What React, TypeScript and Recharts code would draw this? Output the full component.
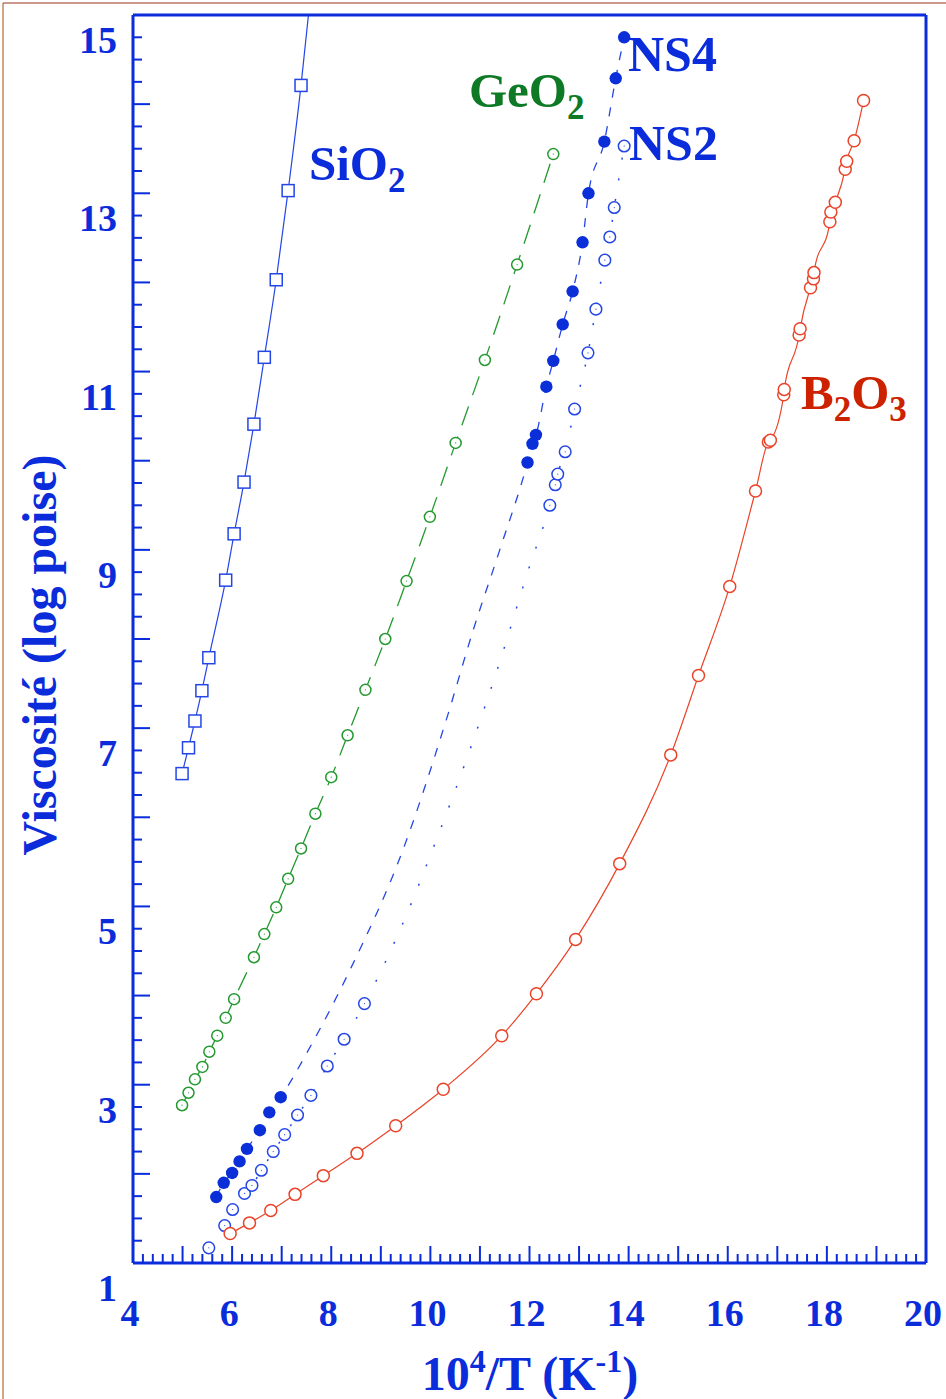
import React from 'react';
import { ComposedChart, Scatter, Line, XAxis, YAxis } from 'recharts';

const W = 946;
const H = 1399;
// plot frame in page pixels
const FRAME = { left: 133, top: 15, right: 926, bottom: 1263 };

const AXIS = '#0a2cdb';
const BLUE = '#2446e6';
const BLUE_DARK = '#0a2ed8';
const GREEN = '#23992f';
const GREEN_TEXT = '#0e7a26';
const RED = '#ea4328';
const RED_TEXT = '#cc2200';
const FONT = '"Liberation Serif", "Times New Roman", serif';

// x = 10^4/T (K^-1), y = log viscosity (poise)
const sio2X = [4.99, 5.12, 5.25, 5.39, 5.53, 5.87, 6.04, 6.24, 6.44, 6.65, 6.89, 7.13, 7.39];
const sio2Y = [6.49, 6.78, 7.08, 7.42, 7.79, 8.66, 9.18, 9.76, 10.41, 11.16, 12.03, 13.03, 14.21];
// fitted line keeps going past the last square up to the frame
const sio2TailX = [7.54];
const sio2TailY = [15.0];

const geo2X = [4.99, 5.12, 5.25, 5.4, 5.54, 5.7, 5.87, 6.04, 6.44, 6.65, 6.89, 7.13, 7.39, 7.68, 8.0, 8.33, 8.69, 9.09, 9.52, 9.99, 10.51, 11.1, 11.75, 12.48];
const geo2Y = [2.77, 2.91, 3.06, 3.2, 3.37, 3.55, 3.75, 3.96, 4.43, 4.69, 4.99, 5.31, 5.65, 6.04, 6.45, 6.92, 7.43, 8.0, 8.65, 9.37, 10.2, 11.13, 12.2, 13.44];

const ns4X = [5.68, 5.83, 6.0, 6.15, 6.3, 6.56, 6.75, 6.98, 11.96, 12.06, 12.13, 12.34, 12.48, 12.67, 12.87, 13.07, 13.19, 13.51, 13.74, 13.91];
const ns4Y = [1.74, 1.9, 2.01, 2.14, 2.28, 2.49, 2.69, 2.86, 9.98, 10.19, 10.29, 10.83, 11.12, 11.53, 11.9, 12.45, 13.0, 13.58, 14.29, 14.75];
// fit curve between the two groups of points
const ns4FitX = [7.51, 8.38, 9.45, 10.33, 10.87, 11.4];
const ns4FitY = [3.36, 4.29, 5.64, 7.11, 8.11, 9.0];

const ns2X = [5.53, 5.85, 6.01, 6.25, 6.4, 6.59, 6.83, 7.06, 7.32, 7.59, 7.92, 8.26, 8.67, 12.41, 12.52, 12.57, 12.72, 12.91, 13.18, 13.34, 13.52, 13.62, 13.71, 13.91];
const ns2Y = [1.17, 1.42, 1.6, 1.78, 1.87, 2.04, 2.25, 2.44, 2.66, 2.88, 3.21, 3.51, 3.91, 9.5, 9.73, 9.85, 10.1, 10.58, 11.21, 11.7, 12.25, 12.51, 12.84, 13.53];
const ns2FitX = [9.39, 10.13, 10.8, 11.41, 11.98];
const ns2FitY = [4.74, 5.76, 6.76, 7.76, 8.78];

const b2o3X = [5.96, 6.35, 6.78, 7.27, 7.84, 8.52, 9.3, 10.26, 11.44, 12.14, 12.93, 13.82, 14.85, 15.41, 16.04, 16.56, 16.82, 16.86, 17.13, 17.14, 17.44, 17.46, 17.67, 17.73, 17.74, 18.06, 18.08, 18.17, 18.37, 18.4, 18.55, 18.74];
const b2o3Y = [1.33, 1.45, 1.59, 1.77, 1.98, 2.23, 2.54, 2.95, 3.55, 4.02, 4.63, 5.48, 6.7, 7.59, 8.59, 9.66, 10.21, 10.23, 10.74, 10.8, 11.41, 11.48, 11.94, 12.04, 12.11, 12.68, 12.79, 12.9, 13.27, 13.36, 13.59, 14.04];

const xLabels = [4, 6, 8, 10, 12, 14, 16, 18, 20];
const yLabels = [1, 3, 5, 7, 9, 11, 13, 15];
const xTicks = Array.from({ length: 81 }, (_, i) => 4 + i / 5);
const yTicks = Array.from({ length: 57 }, (_, i) => 1 + i / 4);

const zip = (xs: number[], ys: number[]) => xs.map((x, i) => ({ x, y: ys[i] }));
const byX = (a: { x: number }, b: { x: number }) => a.x - b.x;

const sio2 = zip(sio2X, sio2Y);
const sio2Line = [...sio2, ...zip(sio2TailX, sio2TailY)];
const geo2 = zip(geo2X, geo2Y);
const ns4 = zip(ns4X, ns4Y);
const ns4Line = [...ns4, ...zip(ns4FitX, ns4FitY)].sort(byX);
const ns2 = zip(ns2X, ns2Y);
const ns2Line = [...ns2, ...zip(ns2FitX, ns2FitY)].sort(byX);
const b2o3 = zip(b2o3X, b2o3Y);

const isInt = (v: number) => Math.abs(v - Math.round(v)) < 1e-6;
const has = (arr: number[], v: number) => arr.some((a) => Math.abs(a - v) < 1e-6);

const tickText = { fontFamily: FONT, fontWeight: 700, fontSize: 38, fill: AXIS };

const BottomTick = (props: any) => {
  const { x, payload } = props;
  const v = payload.value;
  const len = isInt(v) ? 17 : 9;
  return (
    <g>
      <line x1={x} x2={x} y1={FRAME.bottom} y2={FRAME.bottom - len} stroke={AXIS} strokeWidth={2} />
      {has(xLabels, v) && (
        <text x={x - 3} y={1326} textAnchor="middle" {...tickText}>
          {Math.round(v)}
        </text>
      )}
    </g>
  );
};

const TopTick = (props: any) => {
  const { x, payload } = props;
  const len = isInt(payload.value) ? 17 : 9;
  return <line x1={x} x2={x} y1={FRAME.top} y2={FRAME.top + len} stroke={AXIS} strokeWidth={2} />;
};

const LeftTick = (props: any) => {
  const { y, payload } = props;
  const v = payload.value;
  const len = isInt(v) ? 17 : 9;
  return (
    <g>
      <line x1={FRAME.left} x2={FRAME.left + len} y1={y} y2={y} stroke={AXIS} strokeWidth={2} />
      {has(yLabels, v) && (
        <text x={117} y={y + 38} textAnchor="end" {...tickText}>
          {Math.round(v)}
        </text>
      )}
    </g>
  );
};

const RightTick = (props: any) => {
  const { y, payload } = props;
  const len = isInt(payload.value) ? 17 : 9;
  return <line x1={FRAME.right} x2={FRAME.right - len} y1={y} y2={y} stroke={AXIS} strokeWidth={2} />;
};

const Square = (props: any) => {
  const { cx, cy } = props;
  return <rect x={cx - 6} y={cy - 6} width={12} height={12} fill="#fff" stroke={BLUE} strokeWidth={1.5} />;
};

const openCircle = (color: string, r: number, dot: boolean) => (props: any) => {
  const { cx, cy } = props;
  return (
    <g>
      <circle cx={cx} cy={cy} r={r} fill="#fff" stroke={color} strokeWidth={1.5} />
      {dot && <circle cx={cx} cy={cy} r={0.6} fill={color} />}
    </g>
  );
};

const FilledCircle = (props: any) => {
  const { cx, cy } = props;
  return <circle cx={cx} cy={cy} r={6.2} fill={BLUE_DARK} />;
};

const labelStyle = { fontFamily: FONT, fontWeight: 700 };

export default function App() {
  return (
    <div style={{ position: 'absolute', left: 0, top: 0, width: W, height: H, background: '#fff' }}>
      <ComposedChart
        width={W}
        height={H}
        margin={{ top: FRAME.top - 1, left: FRAME.left - 1, right: W - FRAME.right - 1, bottom: H - FRAME.bottom - 1 }}
      >
        <XAxis
          xAxisId="b"
          dataKey="x"
          type="number"
          domain={[4, 20]}
          ticks={xTicks}
          interval={0}
          height={1}
          tickLine={false}
          axisLine={{ stroke: AXIS, strokeWidth: 3 }}
          tick={<BottomTick />}
        />
        <XAxis
          xAxisId="t"
          orientation="top"
          dataKey="x"
          type="number"
          domain={[4, 20]}
          ticks={xTicks}
          interval={0}
          height={1}
          tickLine={false}
          axisLine={{ stroke: AXIS, strokeWidth: 3 }}
          tick={<TopTick />}
        />
        <YAxis
          yAxisId="l"
          dataKey="y"
          type="number"
          domain={[1, 15]}
          ticks={yTicks}
          interval={0}
          width={1}
          tickLine={false}
          axisLine={{ stroke: AXIS, strokeWidth: 3 }}
          tick={<LeftTick />}
        />
        <YAxis
          yAxisId="r"
          orientation="right"
          dataKey="y"
          type="number"
          domain={[1, 15]}
          ticks={yTicks}
          interval={0}
          width={1}
          tickLine={false}
          axisLine={{ stroke: AXIS, strokeWidth: 3 }}
          tick={<RightTick />}
        />

        <Line xAxisId="b" yAxisId="l" data={sio2Line} dataKey="y" type="monotone" stroke={BLUE} strokeWidth={1.2} dot={false} isAnimationActive={false} />
        <Line xAxisId="b" yAxisId="l" data={geo2} dataKey="y" type="monotone" stroke={GREEN} strokeWidth={1.3} strokeDasharray="20 12" dot={false} isAnimationActive={false} />
        <Line xAxisId="b" yAxisId="l" data={ns4Line} dataKey="y" type="monotone" stroke={BLUE} strokeWidth={1.3} strokeDasharray="9 10" dot={false} isAnimationActive={false} />
        <Line xAxisId="b" yAxisId="l" data={ns2Line} dataKey="y" type="monotone" stroke={BLUE} strokeWidth={1.5} strokeDasharray="2 19" dot={false} isAnimationActive={false} />
        <Line xAxisId="b" yAxisId="l" data={b2o3} dataKey="y" type="monotone" stroke={RED} strokeWidth={1.2} dot={false} isAnimationActive={false} />

        <Scatter xAxisId="b" yAxisId="l" data={sio2} shape={<Square />} isAnimationActive={false} />
        <Scatter xAxisId="b" yAxisId="l" data={geo2} shape={openCircle(GREEN, 5.5, true)} isAnimationActive={false} />
        <Scatter xAxisId="b" yAxisId="l" data={ns2} shape={openCircle(BLUE, 5.8, true)} isAnimationActive={false} />
        <Scatter xAxisId="b" yAxisId="l" data={ns4} shape={<FilledCircle />} isAnimationActive={false} />
        <Scatter xAxisId="b" yAxisId="l" data={b2o3} shape={openCircle(RED, 6, false)} isAnimationActive={false} />
      </ComposedChart>

      <svg width={W} height={H} style={{ position: 'absolute', left: 0, top: 0, pointerEvents: 'none' }}>
        <line x1={3} y1={3} x2={W} y2={3} stroke="#9a3318" strokeWidth={1.2} />
        <line x1={3} y1={3} x2={3} y2={H} stroke="#b86a30" strokeWidth={1.2} />

        <text x={309} y={180} fontSize={49} fill={AXIS} {...labelStyle}>
          SiO<tspan fontSize={35} dy={12}>2</tspan>
        </text>
        <text x={469} y={107} fontSize={49} fill={GREEN_TEXT} {...labelStyle}>
          GeO<tspan fontSize={35} dy={12}>2</tspan>
        </text>
        <text x={628} y={71} fontSize={50} fill={AXIS} {...labelStyle}>NS4</text>
        <text x={629} y={160} fontSize={50} fill={AXIS} {...labelStyle}>NS2</text>
        <text x={801} y={409} fontSize={49} fill={RED_TEXT} {...labelStyle}>
          B<tspan fontSize={35} dy={12}>2</tspan>
          <tspan dy={-12}>O</tspan>
          <tspan fontSize={35} dy={12}>3</tspan>
        </text>

        <text x={530} y={1390} fontSize={48} fill={AXIS} textAnchor="middle" {...labelStyle}>
          10<tspan fontSize={32} dy={-18}>4</tspan>
          <tspan dy={18}>/T (K</tspan>
          <tspan fontSize={32} dy={-18}>-1</tspan>
          <tspan dy={18}>)</tspan>
        </text>
        <text
          x={56}
          y={655}
          fontSize={48}
          fill={AXIS}
          textAnchor="middle"
          transform="rotate(-90 56 655)"
          {...labelStyle}
        >
          Viscosité (log poise)
        </text>
      </svg>
    </div>
  );
}
